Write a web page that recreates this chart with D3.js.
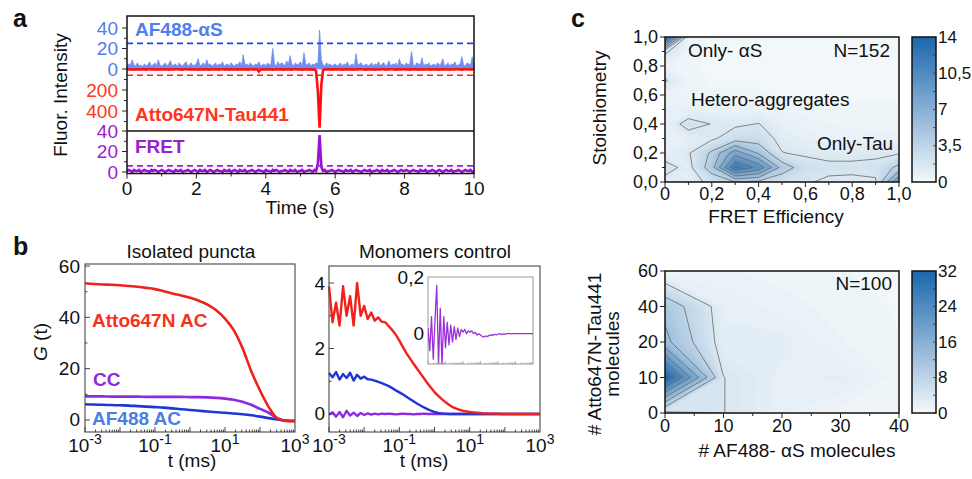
<!DOCTYPE html>
<html>
<head>
<meta charset="UTF-8">
<title>Tau / aS hetero-aggregates</title>
<script src="https://cdn.jsdelivr.net/npm/d3@7"></script>
<style>
  body { margin: 0; background: #fff; }
  svg { font-family: "Liberation Sans", Arial, sans-serif; }
</style>
</head>
<body>
<script>
// ---------- data ----------
// panel a : intensity traces, one value every 50 ms
var timeStep = 0.05;
var blueTrace = [
  3,5,4,9,4,3,6,3,4,2,5,3,4,7,3,4,6,3,9,4,
  3,4,6,3,5,8,3,4,5,2,6,4,3,5,7,3,4,6,3,4,
  5,10,3,4,6,3,9,4,5,3,4,6,3,5,4,7,3,4,5,3,
  6,4,3,5,4,7,3,14,4,5,3,6,4,3,5,4,7,3,4,5,
  3,6,4,5,20,5,3,7,4,6,5,3,8,4,13,5,3,6,4,5,
  7,3,16,5,4,6,3,5,4,6,5,38,9,4,3,6,4,5,3,4,
  5,3,4,6,3,5,4,7,3,4,5,3,15,4,5,6,3,4,5,3,
  4,6,3,5,4,7,3,5,6,3,4,8,3,5,4,6,3,10,4,5,
  3,6,4,5,17,4,3,6,5,4,11,3,5,4,6,3,4,5,3,6,
  4,5,10,3,4,6,3,5,4,7,3,4,5,12,4,3,6,5,4,12,
  5];
var redTrace = [
  3,5,2,4,6,3,4,2,5,3,4,6,3,2,5,4,3,6,2,4,
  5,3,4,2,6,3,5,4,2,3,5,4,6,3,2,4,5,3,4,2,
  4,6,3,5,2,4,3,6,4,2,5,3,4,6,2,3,5,4,3,6,
  2,4,5,3,6,2,4,3,5,4,6,3,2,5,4,3,25,4,3,5,
  4,2,5,3,6,4,2,5,3,4,6,2,4,3,5,6,3,2,4,5,
  3,6,4,2,5,3,4,6,3,20,210,560,150,10,3,5,4,2,6,3,
  4,3,5,2,6,4,3,5,4,2,6,3,5,4,3,2,5,4,6,3,
  5,2,4,6,3,5,4,2,3,6,4,5,3,2,4,6,3,5,4,2,
  3,5,4,6,2,4,3,5,6,3,4,2,5,3,4,6,2,5,3,4,
  6,3,4,5,2,4,6,3,5,4,2,3,5,6,4,3,2,5,4,3,
  4];
var fretTrace = [
  1,2,1,0,2,1,1,2,0,1,2,1,1,0,2,1,2,1,0,1,
  2,1,0,1,2,1,1,0,2,1,1,2,0,1,1,2,1,0,1,2,
  1,0,2,1,1,2,0,1,2,1,0,1,2,1,1,0,2,1,1,2,
  0,1,2,1,0,2,1,1,2,0,1,1,2,1,0,1,2,1,1,0,
  2,1,1,0,2,1,2,1,0,1,1,2,1,0,2,1,1,2,0,1,
  1,2,0,1,1,2,1,0,2,1,8,36,5,1,2,0,1,1,2,1,
  0,1,2,1,1,0,2,1,1,2,0,1,2,1,1,0,1,2,1,1,
  2,0,1,1,2,1,0,2,1,1,2,0,1,1,2,1,0,1,2,1,
  1,2,1,0,1,2,1,1,0,2,1,1,2,0,1,1,2,1,0,1,
  2,1,0,1,2,1,1,2,0,1,1,2,1,0,1,2,1,1,2,0,
  1];
var blueThreshold = 25, redThreshold = 60, fretThreshold = 6;

// panel b : correlation curves, log10(t/ms)
var puncLogT = [-3,-2.75,-2.5,-2.25,-2,-1.75,-1.5,-1.25,-1,-0.75,-0.5,-0.25,0,0.25,0.5,0.75,1,1.25,1.5,1.75,2,2.25,2.5,2.75,3];
var puncRed  = [53.3,53.0,52.8,52.7,52.5,52.2,51.9,51.5,51.0,50.2,49.3,48.5,47.6,46.5,45.0,42.8,39.5,35.0,28.0,19.0,11.5,5.0,0.6,-0.4,-0.5];
var puncCC   = [9.2,9.2,9.2,9.1,9.1,9.1,9.1,9.0,9.0,9.0,9.0,9.0,8.9,8.9,8.8,8.6,8.3,7.9,7.1,5.9,4.3,2.8,0.6,-0.3,-0.4];
var puncBlue = [6.1,6.0,5.9,5.8,5.7,5.6,5.4,5.2,5.0,4.8,4.5,4.2,3.9,3.6,3.3,3.0,2.8,2.5,2.2,1.8,1.3,0.7,0.2,-0.2,-0.3];

var monoLogT = d3.range(61).map(function(i) { return -3 + i * 0.1; });
var monoRed = [3.9,2.8,3.4,2.7,3.9,3.0,3.6,2.7,4.0,3.0,3.3,2.9,3.1,2.85,2.95,2.82,2.8,2.68,2.56,2.42,
  2.24,2.05,1.86,1.70,1.54,1.39,1.24,1.09,0.94,0.80,0.67,0.56,0.46,0.37,0.29,0.22,0.17,0.13,0.10,0.08,
  0.06,0.05,0.04,0.03,0.02,0.02,0.01,0.01,0.01,0,
  0,0,0,0,0,0,0,0,0,0,0];
var monoBlue = [1.25,1.12,1.28,1.05,1.22,1.10,1.26,1.02,1.20,1.08,1.14,1.06,1.05,1.02,0.98,0.94,0.90,0.85,0.79,0.72,
  0.66,0.60,0.53,0.46,0.39,0.32,0.26,0.20,0.15,0.10,0.06,0.03,0.02,0.01,
  0,0,0,0,0,0,0,0,0,0,0,0,0,0,0,0,0,0,0,0,0,0,0,0,0,0,0];
var monoCC = [-0.02,0.05,-0.08,0.06,-0.10,0.10,-0.05,0.04,-0.06,0.03,-0.03,0.02,-0.02,0.01,-0.01,0.01,
  0,0.01,0,-0.01,0,0.01,0,0,-0.01,0,0,0.01,0,0,0,0,0,0,0,0,0,0,0,0,0,0,0,0,0,0,0,0,0,0,0,0,0,0,0,0,0,0,0,0,0];
var insetCC = [0.02,-0.06,0.06,-0.09,0.05,0.17,-0.11,0.09,-0.11,0.06,-0.05,0.04,-0.04,0.03,-0.03,0.025,-0.02,0.02,-0.01,0.015,
  0.005,0.015,0.0,0.01,0.005,0.01,0.0,0.005,-0.005,0.0,-0.005,-0.01,-0.012,-0.008,-0.01,-0.006,-0.004,-0.006,-0.002,-0.004,
  -0.002,0.0,-0.003,-0.001,-0.002,0.0,0,0,0,0,0,0,0,0,0,0,0,0,0,0,0];

// panel c (top): counts on a FRET efficiency x stoichiometry grid, rows = S from 0 to 1
var fretBins  = [0,0.1,0.2,0.3,0.4,0.5,0.6,0.7,0.8,0.9,1.0];
var stoichBins = [0,0.1,0.2,0.3,0.4,0.5,0.6,0.7,0.8,0.9,1.0];
var esGrid = [
  [1.2,1.0,2.2,3.5,3.0,2.2,1.9,1.5,1.4,1.6,9.0],
  [2.4,1.2,4.5,12.0,10.0,4.5,2.5,2.1,2.1,2.1,4.0],
  [0.9,1.6,3.8,8.0,5.0,1.8,1.5,1.3,1.3,1.5,1.6],
  [0.7,1.0,1.5,2.6,2.6,1.3,0.9,0.8,0.7,0.6,0.6],
  [0.8,2.3,1.7,1.5,1.8,0.9,0.6,0.5,0.4,0.4,0.4],
  [0.8,0.8,0.7,0.6,0.6,0.5,0.4,0.3,0.3,0.3,0.3],
  [0.6,0.4,0.3,0.3,0.3,0.2,0.2,0.2,0.2,0.2,0.2],
  [1.9,0.4,0.2,0.2,0.2,0.1,0.1,0.1,0.1,0.1,0.1],
  [0.6,0.3,0.2,0.1,0.1,0.1,0.1,0.1,0.1,0.1,0.1],
  [2.0,0.4,0.2,0.1,0.1,0.1,0.1,0.1,0.1,0.1,0.1],
  [14.0,0.4,0.2,0.1,0.1,0.1,0.1,0.1,0.1,0.1,0.1]];
var esMax = 14, esTicks = [0, 3.5, 7, 10.5, 14];

// panel c (bottom): molecule counts, rows = Tau bins
var asBins  = [0,10,20,30,40];
var tauBins = [0,10,20,40,60];
var molGrid = [
  [3.0,4.05,1.8,0.9,0.6],
  [32.0,4.05,2.0,2.4,0.8],
  [13.1,2.4,2.6,1.2,0.6],
  [10.75,2.2,1.4,0.9,0.5],
  [0.4,1.2,0.9,0.6,0.4]];
var molMax = 32, molTicks = [0, 8, 16, 24, 32];

// ---------- drawing ----------
var W = 972, H = 479, FS = 19;
var svg = d3.select("body").append("svg").attr("width", W).attr("height", H);
var defs = svg.append("defs");

function label(g, x, y, s, o) {
  o = o || {};
  return g.append("text").attr("x", x).attr("y", y).text(s)
    .attr("font-size", o.size || FS)
    .attr("font-weight", o.bold ? "bold" : null)
    .attr("fill", o.color || "#111")
    .attr("text-anchor", o.anchor || "start")
    .attr("dominant-baseline", o.base || null);
}
function vlabel(g, x, y, s, size) {
  return g.append("text").attr("transform", "translate(" + x + "," + y + ") rotate(-90)")
    .attr("text-anchor", "middle").attr("font-size", size || FS).attr("fill", "#111").text(s);
}
function tick(g, x1, y1, x2, y2, col, w) {
  g.append("line").attr("x1", x1).attr("y1", y1).attr("x2", x2).attr("y2", y2)
    .attr("stroke", col || "#222").attr("stroke-width", w || 1);
}

// panel letters
label(svg, 13, 27, "a", {size: 25, bold: true});
label(svg, 13, 255, "b", {size: 25, bold: true});
label(svg, 571, 27, "c", {size: 25, bold: true});

// ===== panel a =====
var gA = svg.append("g");
var xA = d3.scaleLinear().domain([0, 10]).range([127, 474]);
var yBlue = d3.scaleLinear().domain([0, 40]).range([69, 28]);
var yRed = d3.scaleLinear().domain([0, 400]).range([69, 111]);
var yFret = d3.scaleLinear().domain([0, 40]).range([172, 131]);
var tA = function(d, i) { return xA(i * timeStep); };
var cBlue = "#4f7ef0", cRed = "#ff3520", cPur = "#9a22cc";

gA.append("path").datum(blueTrace)
  .attr("d", d3.area().x(tA).y0(yBlue(0)).y1(function(d) { return yBlue(d); }))
  .attr("fill", "#6f8ef0").attr("stroke", "#6f8ef0").attr("stroke-width", 0.8);
gA.append("path").datum(redTrace)
  .attr("d", d3.line().x(tA).y(function(d) { return yRed(d); }))
  .attr("fill", "none").attr("stroke", "#ff1010").attr("stroke-width", 2.6);
gA.append("path").datum(fretTrace)
  .attr("d", d3.line().x(tA).y(function(d) { return yFret(d); }))
  .attr("fill", "none").attr("stroke", "#9a12d0").attr("stroke-width", 2.6);

[[yBlue(blueThreshold), "#2040e8"], [yRed(redThreshold), "#ff2020"], [yFret(fretThreshold), "#a020e0"]]
  .forEach(function(p) {
    gA.append("line").attr("x1", xA(0)).attr("x2", xA(10)).attr("y1", p[0]).attr("y2", p[0])
      .attr("stroke", p[1]).attr("stroke-width", 1.6).attr("stroke-dasharray", "6,4");
  });

gA.append("rect").attr("x", 127).attr("y", 16).attr("width", 347).attr("height", 157.5)
  .attr("fill", "none").attr("stroke", "#111").attr("stroke-width", 1.5);
tick(gA, 127, yFret(40), 474, yFret(40), "#111", 1.3);

// left axis ticks and labels
[0, 10, 20, 30, 40].forEach(function(v) {
  tick(gA, 127, yBlue(v), v % 20 ? 124 : 122, yBlue(v));
  tick(gA, 127, yFret(v), v % 20 ? 124 : 122, yFret(v));
});
[100, 200, 300, 400, 500].forEach(function(v) { tick(gA, 127, yRed(v), v % 200 ? 124 : 122, yRed(v)); });
[0, 20, 40].forEach(function(v) { label(gA, 118, yBlue(v), v, {color: cBlue, anchor: "end", base: "central"}); });
[200, 400].forEach(function(v) { label(gA, 118, yRed(v), v, {color: cRed, anchor: "end", base: "central"}); });
[0, 20, 40].forEach(function(v) { label(gA, 118, yFret(v), v, {color: cPur, anchor: "end", base: "central"}); });

d3.range(0, 11).forEach(function(v) {
  tick(gA, xA(v), 173.5, xA(v), v % 2 ? 176.5 : 178.5);
  if (v % 2 === 0) label(gA, xA(v), 195, v, {anchor: "middle"});
});
label(gA, 300, 214, "Time (s)", {anchor: "middle"});
vlabel(gA, 67, 95, "Fluor. Intensity");

label(gA, 135, 36, "AF488-\u03b1S", {color: cBlue, bold: true});
label(gA, 135, 121, "Atto647N-Tau441", {color: cRed, bold: true});
label(gA, 135, 153, "FRET", {color: cPur, bold: true});

// ===== panel b =====
function logAxis(g, xs, yBottom, labelled) {
  d3.range(-3, 3).forEach(function(k) {
    d3.range(1, 10).forEach(function(m) {
      var x = xs(m * Math.pow(10, k));
      tick(g, x, yBottom, x, yBottom - (m === 1 ? 5 : 2.5), "#333", 0.9);
    });
  });
  labelled.forEach(function(k) {
    var t = g.append("text").attr("x", xs(Math.pow(10, k))).attr("y", 452)
      .attr("text-anchor", "middle").attr("font-size", FS).attr("fill", "#111");
    t.append("tspan").text("10");
    t.append("tspan").attr("dy", -8).attr("font-size", 14).text(k);
  });
}
function curve(g, xs, ys, logT, vals, col, w, smooth) {
  g.append("path").datum(vals)
    .attr("d", d3.line().curve(smooth ? d3.curveMonotoneX : d3.curveLinear)
      .x(function(d, i) { return xs(Math.pow(10, logT[i])); })
      .y(function(d) { return ys(d); }))
    .attr("fill", "none").attr("stroke", col).attr("stroke-width", w)
    .attr("stroke-linejoin", "round");
}
var lineRed = "#f0201a", linePur = "#8c2be2", lineBlue = "#1e36d8";

// left: isolated puncta
var gB = svg.append("g");
var xBL = d3.scaleLog().domain([1e-3, 1e3]).range([85, 295]);
var yBL = d3.scaleLinear().domain([-4.7, 60.8]).range([432, 264]);
curve(gB, xBL, yBL, puncLogT, puncBlue, lineBlue, 2.6, true);
curve(gB, xBL, yBL, puncLogT, puncCC, linePur, 2.6, true);
curve(gB, xBL, yBL, puncLogT, puncRed, lineRed, 2.6, true);
gB.append("rect").attr("x", 85).attr("y", 264).attr("width", 210).attr("height", 168)
  .attr("fill", "none").attr("stroke", "#555").attr("stroke-width", 1.2);
[0, 10, 20, 30, 40, 50, 60].forEach(function(v) {
  tick(gB, 85, yBL(v), 85 + (v % 20 ? 2.5 : 5), yBL(v), "#333", 0.9);
  if (v % 20 === 0) label(gB, 80, yBL(v), v, {anchor: "end", base: "central"});
});
logAxis(gB, xBL, 432, [-3, -1, 1, 3]);
label(gB, 191, 258, "Isolated puncta", {anchor: "middle"});
label(gB, 192, 467, "t (ms)", {anchor: "middle"});
var gl = gB.append("text").attr("transform", "translate(47,342) rotate(-90)")
  .attr("text-anchor", "middle").attr("font-size", FS).attr("fill", "#111");
gl.append("tspan").attr("font-style", "italic").text("G");
gl.append("tspan").text(" (t)");
label(gB, 92, 327, "Atto647N AC", {color: "#f5321e", bold: true});
label(gB, 93, 386, "CC", {color: "#8c2be0", bold: true});
label(gB, 92, 425, "AF488 AC", {color: "#4a7de8", bold: true});

// right: monomers control
var xBR = d3.scaleLog().domain([1e-3, 1e3]).range([329, 540]);
var yBR = d3.scaleLinear().domain([-0.55, 4.52]).range([432, 266]);
curve(gB, xBR, yBR, monoLogT, monoCC, linePur, 2.4);
curve(gB, xBR, yBR, monoLogT, monoBlue, lineBlue, 2.4);
curve(gB, xBR, yBR, monoLogT, monoRed, lineRed, 2.4);
gB.append("rect").attr("x", 329).attr("y", 266).attr("width", 211).attr("height", 166)
  .attr("fill", "none").attr("stroke", "#555").attr("stroke-width", 1.2);
[0, 1, 2, 3, 4].forEach(function(v) {
  tick(gB, 329, yBR(v), 329 + (v % 2 ? 2.5 : 5), yBR(v), "#333", 0.9);
  if (v % 2 === 0) label(gB, 325, yBR(v), v, {anchor: "end", base: "central"});
});
logAxis(gB, xBR, 432, [-3, -1, 1, 3]);
label(gB, 435, 258, "Monomers control", {anchor: "middle"});
label(gB, 424, 467, "t (ms)", {anchor: "middle"});

// inset
var xIn = d3.scaleLog().domain([1e-3, 1e3]).range([428, 533]);
var yIn = d3.scaleLinear().domain([-0.107, 0.2]).range([364, 277]);
defs.append("clipPath").attr("id", "clipIn").append("rect")
  .attr("x", 428).attr("y", 277).attr("width", 105).attr("height", 87);
var gIn = gB.append("g");
gIn.append("rect").attr("x", 428).attr("y", 277).attr("width", 105).attr("height", 87)
  .attr("fill", "#fff").attr("stroke", "#999").attr("stroke-width", 1);
curve(gIn.append("g").attr("clip-path", "url(#clipIn)"), xIn, yIn, monoLogT, insetCC, "#9a30d8", 1.3);
d3.range(-3, 3).forEach(function(k) {
  d3.range(1, 10).forEach(function(m) {
    var x = xIn(m * Math.pow(10, k));
    tick(gIn, x, 364, x, 364 - (m === 1 ? 3 : 1.5), "#999", 0.7);
  });
});
label(gIn, 424, yIn(0.2), "0,2", {anchor: "end", base: "central"});
label(gIn, 424, yIn(0), "0", {anchor: "end", base: "central"});

// ===== panel c =====
function contourPanel(g, id, grid, xBinScale, yBinScale, xs, ys, max, lineStep, box) {
  var nx = grid[0].length, ny = grid.length;
  var color = d3.scaleLinear().domain([0, max]).range(["#f4f9fb", "#1a66ac"]);
  var toX = d3.scaleLinear().domain(d3.range(nx)).range(xBinScale);
  var toY = d3.scaleLinear().domain(d3.range(ny)).range(yBinScale);
  var proj = d3.geoTransform({point: function(x, y) {
    this.stream.point(xs(toX(x - 0.5)), ys(toY(y - 0.5)));
  }});
  var path = d3.geoPath(proj);
  var values = [].concat.apply([], grid);
  defs.append("clipPath").attr("id", id).append("rect")
    .attr("x", box[0]).attr("y", box[1]).attr("width", box[2]).attr("height", box[3]);
  var gc = g.append("g").attr("clip-path", "url(#" + id + ")");
  var fillLevels = d3.range(0, max, max / 56);
  gc.selectAll("path.fill").data(d3.contours().size([nx, ny]).thresholds(fillLevels)(values))
    .enter().append("path").attr("class", "fill").attr("d", path)
    .attr("fill", function(d) { return color(d.value + max / 112); })
    .attr("stroke", function(d) { return color(d.value + max / 112); }).attr("stroke-width", 0.3);
  var lineLevels = d3.range(lineStep, max, lineStep);
  gc.selectAll("path.iso").data(d3.contours().size([nx, ny]).thresholds(lineLevels)(values))
    .enter().append("path").attr("class", "iso").attr("d", path)
    .attr("fill", "none").attr("stroke", "#6a6a6a").attr("stroke-width", 0.8);
  g.append("rect").attr("x", box[0]).attr("y", box[1]).attr("width", box[2]).attr("height", box[3])
    .attr("fill", "none").attr("stroke", "#111").attr("stroke-width", 1.5);
  return color;
}
function colorbar(g, id, x, y, w, h, color, max, ticks, minorStep) {
  var grad = defs.append("linearGradient").attr("id", id)
    .attr("x1", 0).attr("y1", 1).attr("x2", 0).attr("y2", 0);
  d3.range(0, 1.0001, 0.1).forEach(function(f) {
    grad.append("stop").attr("offset", f).attr("stop-color", color(f * max));
  });
  g.append("rect").attr("x", x).attr("y", y).attr("width", w).attr("height", h)
    .attr("fill", "url(#" + id + ")").attr("stroke", "#111").attr("stroke-width", 1.5);
  var cs = d3.scaleLinear().domain([0, max]).range([y + h, y]);
  d3.range(0, max + 0.001, minorStep).forEach(function(v) {
    tick(g, x + w, cs(v), x + w - 3, cs(v), "#333", 0.8);
  });
  ticks.forEach(function(v) {
    label(g, x + w + 2, cs(v), String(v).replace(".", ","), {base: "central", size: 17});
  });
}

// top: stoichiometry vs FRET efficiency
var gC = svg.append("g");
var xE = d3.scaleLinear().domain([0, 1]).range([665, 899]);
var yS = d3.scaleLinear().domain([0, 1]).range([182, 37]);
var colTop = contourPanel(gC, "clipTop", esGrid, fretBins, stoichBins, xE, yS, esMax, 1.75, [665, 37, 234, 145]);
var fmtC = function(v) { return d3.format(".1f")(v).replace(".", ","); };
d3.range(0, 11).forEach(function(i) {
  var v = i / 10;
  tick(gC, xE(v), 182, xE(v), i % 2 ? 185 : 187);
  tick(gC, 665, yS(v), i % 2 ? 662 : 660, yS(v));
  if (i % 2 === 0) {
    label(gC, xE(v), 200, i === 0 ? "0" : fmtC(v), {anchor: "middle", size: 18});
    label(gC, 658, yS(v), fmtC(v), {anchor: "end", base: "central", size: 18});
  }
});
label(gC, 776, 223, "FRET Efficiency", {anchor: "middle"});
vlabel(gC, 606, 108, "Stoichiometry");
label(gC, 688, 57, "Only- \u03b1S");
label(gC, 890, 57, "N=152", {anchor: "end"});
label(gC, 691, 106, "Hetero-aggregates");
label(gC, 817, 150, "Only-Tau");
colorbar(gC, "gradTop", 912, 37, 24, 145, colTop, esMax, esTicks, 1.75);

// bottom: molecule numbers
var xM = d3.scaleLinear().domain([0, 40]).range([665, 899]);
var yM = d3.scaleLinear().domain(tauBins).range(d3.quantize(d3.interpolate(413, 271), tauBins.length));
var colBot = contourPanel(gC, "clipBot", molGrid, asBins, tauBins, xM, yM, molMax, 4, [665, 271, 234, 142]);
asBins.forEach(function(v) {
  tick(gC, xM(v), 413, xM(v), 418);
  label(gC, xM(v), 432, v, {anchor: "middle", size: 18});
});
[5, 15, 25, 35].forEach(function(v) { tick(gC, xM(v), 413, xM(v), 416); });
tauBins.forEach(function(v) {
  tick(gC, 665, yM(v), 660, yM(v));
  label(gC, 658, yM(v), v, {anchor: "end", base: "central", size: 18});
});
label(gC, 797, 457, "# AF488- \u03b1S molecules", {anchor: "middle"});
vlabel(gC, 601, 354, "# Atto647N-Tau441");
vlabel(gC, 619, 354, "molecules");
label(gC, 892, 290, "N=100", {anchor: "end"});
colorbar(gC, "gradBot", 912, 271, 24, 142, colBot, molMax, molTicks, 4);
</script>
</body>
</html>
